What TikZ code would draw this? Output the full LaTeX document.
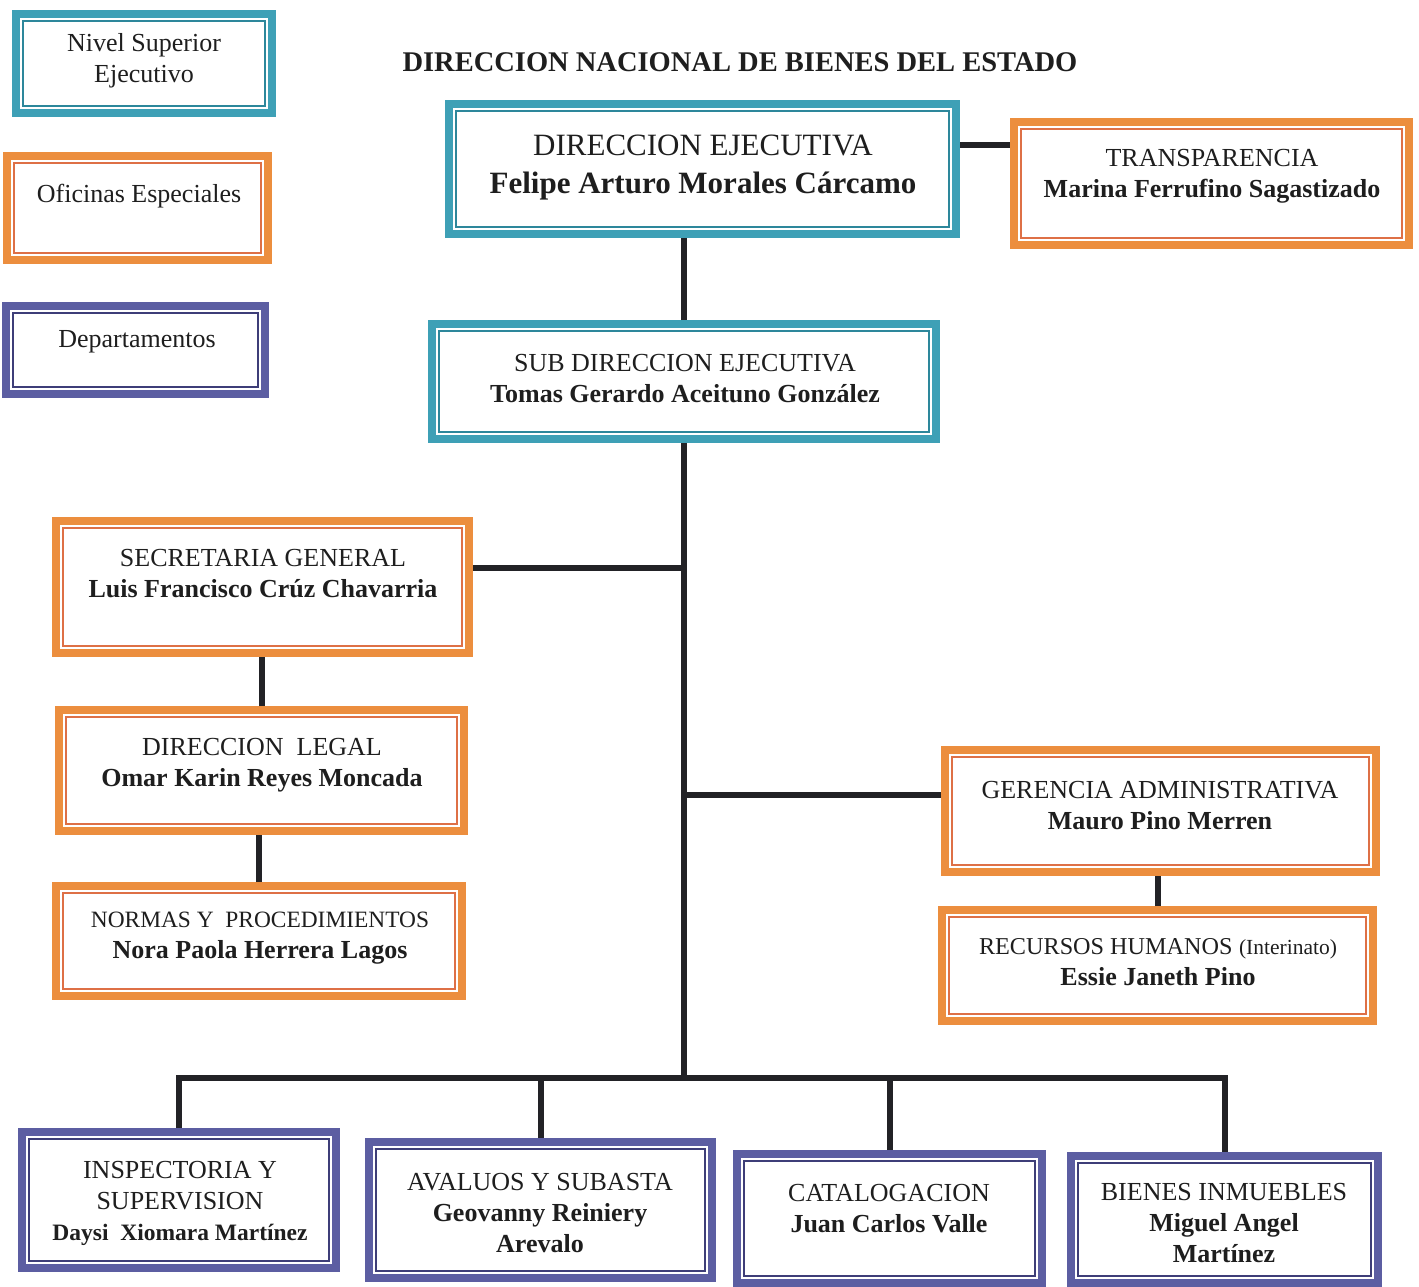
\documentclass[tikz,border=0pt]{standalone}
\usepackage{fontspec}
\setmainfont{Liberation Serif}
\definecolor{tealb}{RGB}{62,160,182}
\definecolor{tealbin}{RGB}{45,135,155}
\definecolor{orab}{RGB}{236,142,62}
\definecolor{orabin}{RGB}{222,112,70}
\definecolor{purb}{RGB}{92,94,162}
\definecolor{purbin}{RGB}{62,62,120}
\definecolor{linec}{RGB}{34,34,38}
\definecolor{textc}{RGB}{30,30,30}
\tikzset{
  conn/.style={line width=6pt, draw=linec},
  boxo/.style={line width=8pt, inner sep=0pt, fill=white},
  txt/.style={align=center, text=textc, font=\fontsize{26}{31}\selectfont, inner sep=0pt},
}
\newcommand\orgbox[6]{%
  \node[boxo, draw=#2, minimum width={#5-#3-8}, minimum height={#6-#4-8}] (#1) at ({(#3+#5)/2},{(#4+#6)/2}) {};
  \draw[line width=2pt, draw=#2in] ([shift={(11,11)}]#1.north west) rectangle ([shift={(-11,-11)}]#1.south east);
}
\begin{document}
\begin{tikzpicture}[x=1pt,y=-1pt]
\useasboundingbox[fill=white] (0,0) rectangle (1419,1287);
% legend
\orgbox{leg1}{tealb}{12}{10}{276}{117}
\node[txt] (tleg1) at (144,61) {Nivel Superior\\Ejecutivo};
\orgbox{leg2}{orab}{3}{152}{272}{264}
\node[txt] (tleg2) at (139,196) {Oficinas Especiales};
\orgbox{leg3}{purb}{2}{302}{269}{398}
\node[txt] (tleg3) at (137,342) {Departamentos};
% title
\node[txt, font=\fontsize{28.5}{34}\selectfont\bfseries] (title) at (740,62) {DIRECCION NACIONAL DE BIENES DEL ESTADO};
% top level
\orgbox{de}{tealb}{445}{100}{960}{238}
\node[txt, font=\fontsize{31}{38}\selectfont] (tde) at (703,168) {DIRECCION EJECUTIVA\\\textbf{Felipe Arturo Morales Cárcamo}};
\orgbox{tr}{orab}{1010}{118}{1413}{249}
\node[txt] (ttr) at (1212,176) {TRANSPARENCIA\\\textbf{Marina Ferrufino Sagastizado}};
\orgbox{sd}{tealb}{428}{320}{940}{443}
\node[txt] (tsd) at (685,379) {SUB DIRECCION EJECUTIVA\\\textbf{Tomas Gerardo Aceituno González}};
% left column
\orgbox{sec}{orab}{52}{517}{473}{657}
\node[txt] (tsec) at (263,574) {SECRETARIA GENERAL\\\textbf{Luis Francisco Crúz Chavarria}};
\orgbox{leg}{orab}{55}{706}{468}{835}
\node[txt] (tleg) at (262,765) {DIRECCION\ \ LEGAL\\\textbf{Omar Karin Reyes Moncada}};
\orgbox{nor}{orab}{52}{882}{466}{1000}
\node[txt] (tnor) at (260,938) {{\fontsize{23.4}{31}\selectfont NORMAS Y\ \ PROCEDIMIENTOS}\\\textbf{Nora Paola Herrera Lagos}};
% right column
\orgbox{ger}{orab}{941}{746}{1380}{876}
\node[txt] (tger) at (1160,806) {GERENCIA ADMINISTRATIVA\\\textbf{Mauro Pino Merren}};
\orgbox{rh}{orab}{938}{906}{1377}{1025}
\node[txt] (trh) at (1158,962) {{\fontsize{24.2}{31}\selectfont RECURSOS HUMANOS} {\fontsize{21.5}{31}\selectfont(Interinato)}\\\textbf{Essie Janeth Pino}};
% bottom row
\orgbox{insp}{purb}{18}{1128}{340}{1272}
\node[txt] (tinsp) at (180,1203) {INSPECTORIA Y\\SUPERVISION\\{\fontsize{23.5}{31}\selectfont\bfseries Daysi\ \ Xiomara Martínez}};
\orgbox{aval}{purb}{365}{1138}{716}{1282}
\node[txt] (taval) at (540,1213) {AVALUOS Y SUBASTA\\\textbf{Geovanny Reiniery}\\\textbf{Arevalo}};
\orgbox{cat}{purb}{733}{1150}{1046}{1287}
\node[txt] (tcat) at (889,1209) {CATALOGACION\\\textbf{Juan Carlos Valle}};
\orgbox{bien}{purb}{1067}{1152}{1382}{1287}
\node[txt] (tbien) at (1224,1223) {BIENES INMUEBLES\\\textbf{Miguel Angel}\\\textbf{Martínez}};
% connectors
\coordinate (bus) at (686,1078);
\draw[conn] ([yshift=24pt]de.east) -- ([yshift=24pt]de.east -| tr.west);
\draw[conn] (sd.north) -- (sd.north |- de.south);
\draw[conn] (sd.south) -- (sd.south |- bus);
\draw[conn] ([yshift=19pt]sec.east) -- ([yshift=19pt]sec.east -| sd.south);
\draw[conn] ([yshift=16pt]ger.west) -- ([yshift=16pt]ger.west -| sd.south);
\draw[conn] (leg.north) -- (leg.north |- sec.south);
\draw[conn] (nor.north) -- (nor.north |- leg.south);
\draw[conn] (rh.north) -- (rh.north |- ger.south);
\draw[conn] (insp.north) -- (insp.north |- bus) -- (bien.north |- bus) -- (bien.north);
\draw[conn] (aval.north) -- (aval.north |- bus);
\draw[conn] (cat.north) -- (cat.north |- bus);
\end{tikzpicture}
\end{document}
